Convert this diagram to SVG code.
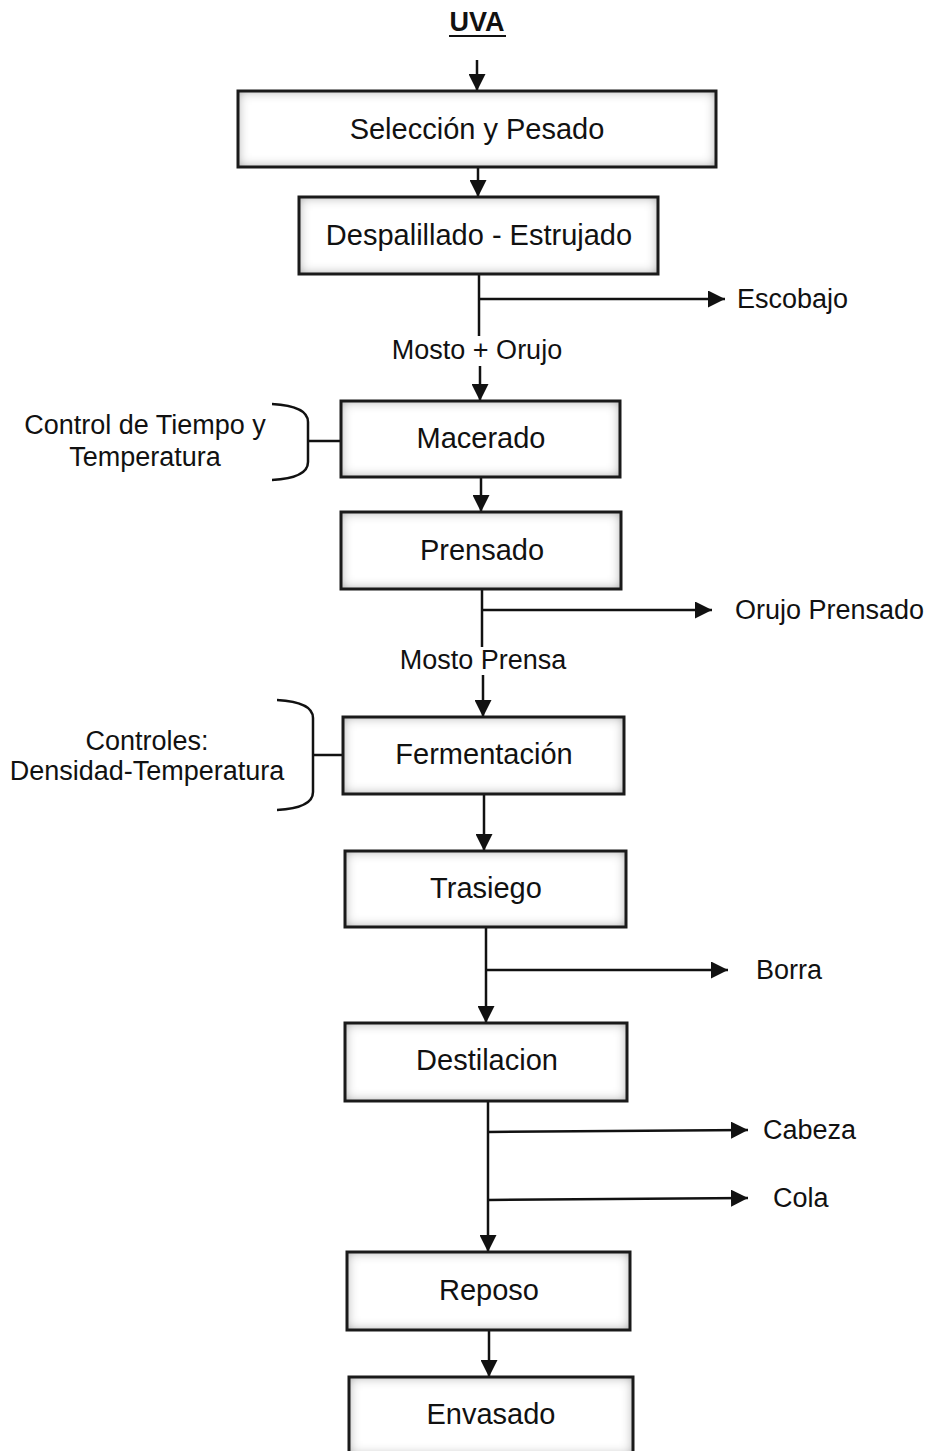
<svg xmlns="http://www.w3.org/2000/svg" width="930" height="1451" viewBox="0 0 930 1451">
<defs>
<style>
text{font-family:"Liberation Sans",Arial,sans-serif;font-size:27px;fill:#111;dominant-baseline:central}
.c{text-anchor:middle}
.b{font-size:29px}
.bf{fill:#fff;stroke:none;filter:url(#inner)}
.bs{fill:none;stroke:#1a1a1a;stroke-width:3}
.ln{stroke:#111;stroke-width:2.5;fill:none}
.ar{marker-end:url(#ah)}
</style>
<filter id="inner" x="-10%" y="-25%" width="120%" height="150%">
<feFlood flood-color="#000" flood-opacity="0.75" result="f"/>
<feComposite in="f" in2="SourceAlpha" operator="out" result="o"/>
<feGaussianBlur in="o" stdDeviation="6" result="b"/>
<feComposite in="b" in2="SourceAlpha" operator="in" result="s"/>
<feMerge><feMergeNode in="SourceGraphic"/><feMergeNode in="s"/></feMerge>
</filter>
<marker id="ah" viewBox="0 0 10 10" refX="10" refY="5" markerWidth="6.8" markerHeight="6.8" markerUnits="strokeWidth" orient="auto">
<path d="M0,0 L10,5 L0,10 Z" fill="#111"/>
</marker>
</defs>
<rect width="930" height="1451" fill="#fff"/>

<g id="uva">
<text class="c" x="477" y="22" style="font-weight:bold">UVA</text>
<line x1="449" y1="36" x2="506" y2="36" stroke="#111" stroke-width="2"/>
</g>

<g id="connectors">
<line class="ln ar" x1="477" y1="60" x2="477" y2="91"/>
<line class="ln ar" x1="478" y1="167" x2="478" y2="197"/>
<line class="ln" x1="479" y1="274" x2="479" y2="336"/>
<line class="ln ar" x1="479" y1="299" x2="725" y2="299"/>
<line class="ln ar" x1="480" y1="366" x2="480" y2="401"/>
<line class="ln ar" x1="481" y1="477" x2="481" y2="512"/>
<line class="ln" x1="482" y1="589" x2="482" y2="647"/>
<line class="ln ar" x1="482" y1="610" x2="712" y2="610"/>
<line class="ln ar" x1="483" y1="675" x2="483" y2="717"/>
<line class="ln ar" x1="484" y1="794" x2="484" y2="851"/>
<line class="ln ar" x1="486" y1="927" x2="486" y2="1023"/>
<line class="ln ar" x1="486" y1="970" x2="728" y2="970"/>
<line class="ln ar" x1="488" y1="1101" x2="488" y2="1252"/>
<line class="ln ar" x1="488" y1="1132" x2="748" y2="1130"/>
<line class="ln ar" x1="488" y1="1200" x2="748" y2="1198"/>
<line class="ln ar" x1="489" y1="1330" x2="489" y2="1377"/>
<path class="ln" d="M272,404 Q308,406 308,422 L308,462 Q308,478 272,480"/>
<line class="ln" x1="308" y1="441" x2="341" y2="441"/>
<path class="ln" d="M277,700 Q313,702 313,718 L313,792 Q313,808 277,810"/>
<line class="ln" x1="313" y1="755" x2="343" y2="755"/>
</g>

<g id="n1"><rect class="bf" x="238" y="91" width="478" height="76"/><rect class="bs" x="238" y="91" width="478" height="76"/><text class="c b" x="477" y="129">Selección y Pesado</text></g>
<g id="n2"><rect class="bf" x="299" y="197" width="359" height="77"/><rect class="bs" x="299" y="197" width="359" height="77"/><text class="c b" x="479" y="235">Despalillado - Estrujado</text></g>
<g id="n3"><rect class="bf" x="341" y="401" width="279" height="76"/><rect class="bs" x="341" y="401" width="279" height="76"/><text class="c b" x="481" y="438">Macerado</text></g>
<g id="n4"><rect class="bf" x="341" y="512" width="280" height="77"/><rect class="bs" x="341" y="512" width="280" height="77"/><text class="c b" x="482" y="550">Prensado</text></g>
<g id="n5"><rect class="bf" x="343" y="717" width="281" height="77"/><rect class="bs" x="343" y="717" width="281" height="77"/><text class="c b" x="484" y="754">Fermentación</text></g>
<g id="n6"><rect class="bf" x="345" y="851" width="281" height="76"/><rect class="bs" x="345" y="851" width="281" height="76"/><text class="c b" x="486" y="888">Trasiego</text></g>
<g id="n7"><rect class="bf" x="345" y="1023" width="282" height="78"/><rect class="bs" x="345" y="1023" width="282" height="78"/><text class="c b" x="487" y="1060">Destilacion</text></g>
<g id="n8"><rect class="bf" x="347" y="1252" width="283" height="78"/><rect class="bs" x="347" y="1252" width="283" height="78"/><text class="c b" x="489" y="1290">Reposo</text></g>
<g id="n9"><rect class="bf" x="349" y="1377" width="284" height="78"/><rect class="bs" x="349" y="1377" width="284" height="78"/><text class="c b" x="491" y="1414">Envasado</text></g>

<g id="labels">
<text x="737" y="299">Escobajo</text>
<text class="c" x="477" y="350">Mosto + Orujo</text>
<text class="c" x="145" y="425">Control de Tiempo y</text>
<text class="c" x="145" y="457">Temperatura</text>
<text x="735" y="610">Orujo Prensado</text>
<text class="c" x="483" y="660">Mosto Prensa</text>
<text class="c" x="147" y="741">Controles:</text>
<text class="c" x="147" y="771">Densidad-Temperatura</text>
<text x="756" y="970">Borra</text>
<text x="763" y="1130">Cabeza</text>
<text x="773" y="1198">Cola</text>
</g>
</svg>
